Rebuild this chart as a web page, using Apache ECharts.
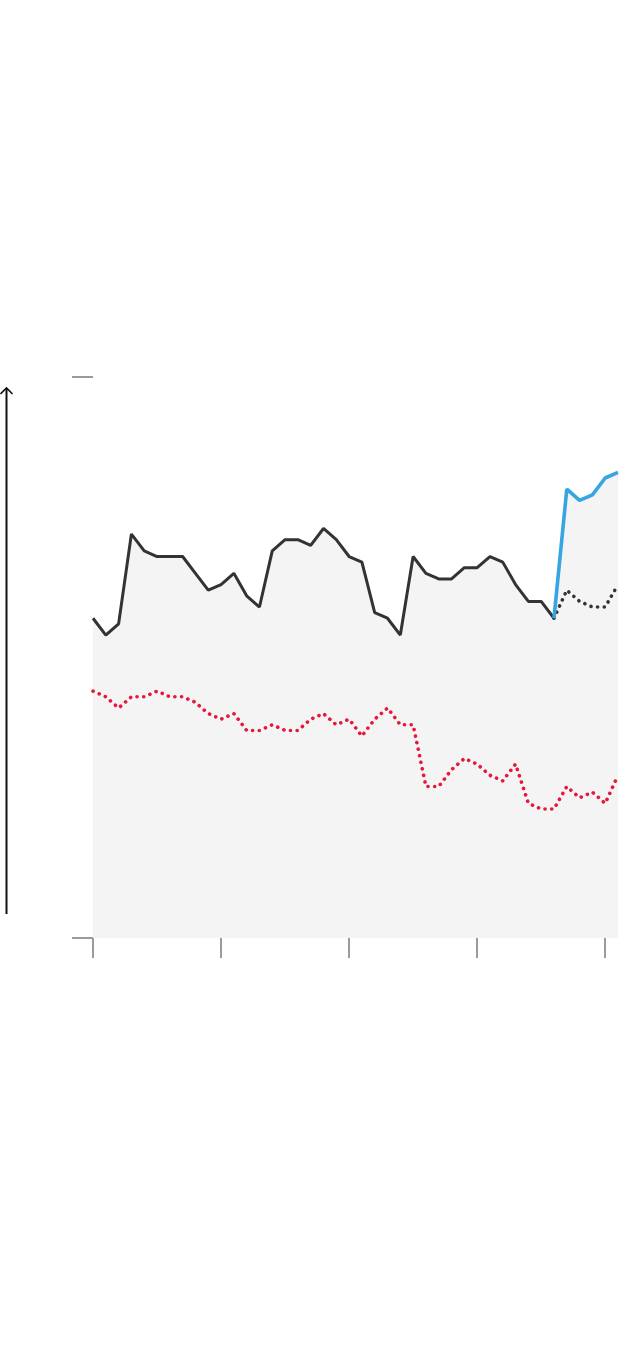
<!DOCTYPE html>
<html>
<head>
<meta charset="utf-8">
<script src="https://cdn.jsdelivr.net/npm/echarts@6/dist/echarts.min.js"></script>
<style>html,body{margin:0;padding:0;background:#fff}#c{width:640px;height:1360px}</style>
</head>
<body>
<div id="c"></div>
<script>
var categories = [];
for (var k = 0; k < 42; k++) categories.push(String(k));
var actual = [57,54,56,72,69,68,68,68,65,62,63,65,61,59,69,71,71,70,73,71,68,67,58,57,54,68,65,64,64,66,66,68,67,63,60,60,57];
var projected = [57,80,78,79,82,83];
var baseline = [57,62,60,59,59,63];
var redSeries = [44,43,41,43,43,44,43,43,42,40,39,40,37,37,38,37,37,39,40,38,39,36,39,41,38,38,27,27,30,32,31,29,28,31,24,23,23,27,25,26,24,29];

var startP = actual.length - 1;
function pad(arr, start) {
  var out = [];
  for (var i = 0; i < categories.length; i++) out.push(i >= start && i - start < arr.length ? arr[i - start] : null);
  return out;
}
var actualData = pad(actual, 0);
var projData = pad(projected, startP);
var baseData = pad(baseline, startP);
var envelope = categories.map(function (c, i) { return i < startP ? actual[i] : projected[i - startP]; });

var chart = echarts.init(document.getElementById('c'));
chart.setOption({
  animation: false,
  grid: { left: 93, right: 22, top: 377, bottom: 422 },
  xAxis: {
    type: 'category', data: categories, boundaryGap: false,
    axisLine: { show: false },
    axisLabel: { show: false },
    axisTick: { show: true, length: 20, interval: function (i) { return i % 10 === 0; }, lineStyle: { color: '#9a9a9a', width: 2 } },
    splitLine: { show: false }
  },
  yAxis: {
    type: 'value', min: 0, max: 100, interval: 100,
    axisLine: { show: false },
    axisLabel: { show: false },
    axisTick: { show: true, length: 21, lineStyle: { color: '#9a9a9a', width: 2 } },
    splitLine: { show: false }
  },
  series: [
    { type: 'line', data: envelope, symbol: 'none', lineStyle: { width: 0, opacity: 0 }, areaStyle: { color: '#f4f4f4', opacity: 1 }, z: 1 },
    { type: 'line', data: redSeries, symbol: 'none', lineStyle: { color: '#e5173b', width: 3.6, type: [0.1, 6.6], cap: 'round' }, z: 3 },
    { type: 'line', data: baseData, symbol: 'none', lineStyle: { color: '#333', width: 3.6, type: [0.1, 6.6], cap: 'round' }, z: 3 },
    { type: 'line', data: actualData, symbol: 'none', lineStyle: { color: '#333', width: 3 }, z: 4 },
    { type: 'line', data: projData, symbol: 'none', lineStyle: { color: '#38a5e3', width: 3.6 }, z: 5 }
  ],
  graphic: [
    { type: 'line', shape: { x1: 6.5, y1: 388, x2: 6.5, y2: 914 }, style: { stroke: '#111', lineWidth: 2 } },
    { type: 'polyline', shape: { points: [[0.5, 394], [6.5, 388], [12.5, 394]] }, style: { stroke: '#111', lineWidth: 1.6, fill: null } }
  ]
});
</script>
</body>
</html>
